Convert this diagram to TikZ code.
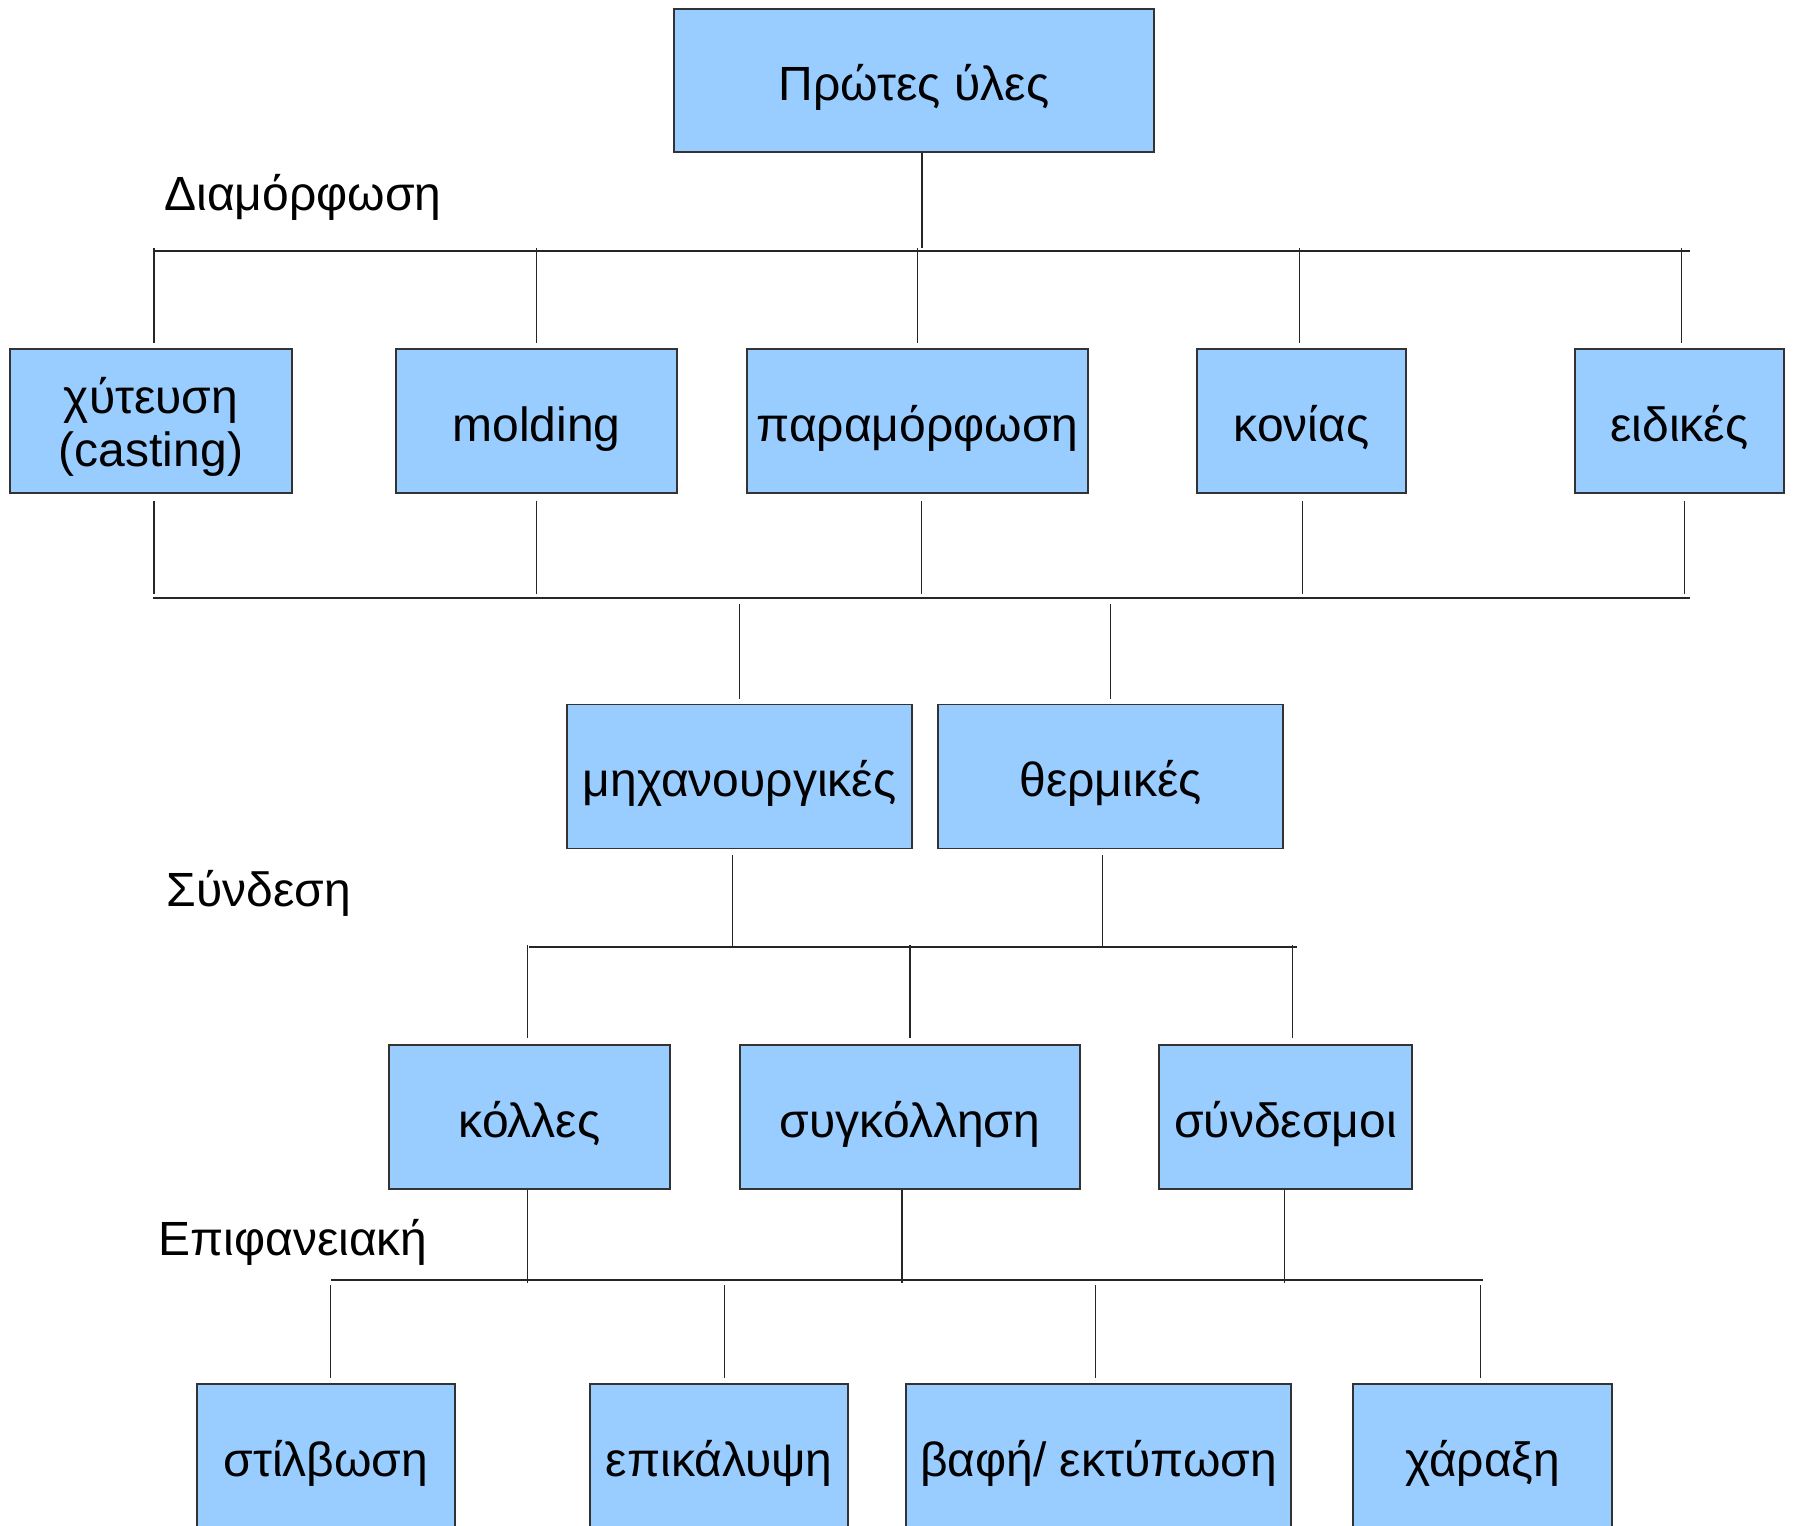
\documentclass[tikz,border=0pt]{standalone}
\usepackage{fontspec}
\setmainfont{Liberation Sans}
\definecolor{boxfill}{HTML}{99CCFF}
\definecolor{boxline}{HTML}{333333}
\begin{document}
\begin{tikzpicture}[x=0.5pt,y=-0.5pt,
  box/.style={draw=boxline, line width=0.6pt, fill=boxfill, inner sep=0pt,
    minimum height=72pt, text height=24pt, text depth=4pt,
    font=\fontsize{24}{27}\selectfont},
  plainbox/.style={draw=boxline, line width=0.6pt, fill=boxfill, inner sep=0pt,
    minimum height=72pt},
  boxtext/.style={anchor=base, inner sep=0pt, font=\fontsize{24}{27}\selectfont},
  conn/.style={draw=black!85, line width=0.55pt},
  bus/.style={draw=black!85, line width=0.9pt},
  lbl/.style={anchor=base west, inner sep=0pt, font=\fontsize{24}{27}\selectfont}]
\path[use as bounding box, clip] (0,0) rectangle (1794,1526);

% nodes
\node[box, minimum width=240pt, minimum height=71.5pt] (top) at (914,80.5) {Πρώτες ύλες};

\node[plainbox, minimum width=141pt] (cast) at (151,421) {};
\node[boxtext] (castA) at (151,413) {χύτευση};
\node[boxtext] (castB) at (151,466) {(casting)};
\node[box, minimum width=140.5pt] (mold) at (536.5,421) {molding};
\node[box, minimum width=170.5pt] (para) at (917.5,421) {παραμόρφωση};
\node[box, minimum width=104.5pt] (kon) at (1301.5,421) {κονίας};
\node[box, minimum width=104.5pt] (eid) at (1679.5,421) {ειδικές};

\node[box, minimum width=172.5pt] (mech) at (739.5,776.5) {μηχανουργικές};
\node[box, minimum width=172.5pt] (therm) at (1110.5,776.5) {θερμικές};

\node[box, minimum width=140.5pt] (koll) at (529.5,1117) {κόλλες};
\node[box, minimum width=170pt] (syg) at (910,1117) {συγκόλληση};
\node[box, minimum width=126.5pt] (synd) at (1285.5,1117) {σύνδεσμοι};

\node[box, minimum width=129pt] (stil) at (326,1456) {στίλβωση};
\node[box, minimum width=129pt] (epik) at (719,1456) {επικάλυψη};
\node[box, minimum width=192.5pt] (vafi) at (1098.5,1456) {βαφή/ εκτύπωση};
\node[box, minimum width=129.5pt] (xar) at (1482.5,1456) {χάραξη};

% labels
\node[lbl] (l1) at (164,210) {Διαμόρφωση};
\node[lbl] (l2) at (166,906) {Σύνδεση};
\node[lbl] (l3) at (158,1255) {Επιφανειακή};

% bus coordinates
\coordinate (b1l) at (153,251);  \coordinate (b1r) at (1690,251);
\coordinate (b2l) at (153,598);  \coordinate (b2r) at (1690,598);
\coordinate (b3l) at (529,947);  \coordinate (b3r) at (1297,947);
\coordinate (b4l) at (331,1280); \coordinate (b4r) at (1483,1280);

\draw[bus] (b1l) -- (b1r);
\draw[bus] (b2l) -- (b2r);
\draw[bus] (b3l) -- (b3r);
\draw[bus] (b4l) -- (b4r);

% level 1: top to bus
\draw[conn, shorten >=1.5pt] ([xshift=4pt]top.south) -- ([xshift=4pt]top.south |- b1l);
% bus 1 down to row 2
\foreach \n/\dx in {cast/1.5pt, mold/0pt, para/0pt, kon/-1pt, eid/1pt}{
  \draw[conn, shorten <=-1.5pt, shorten >=2.5pt] ([xshift=\dx]\n.north |- b1l) -- ([xshift=\dx]\n.north);
}
% row 2 down to bus 2
\foreach \n/\dx in {cast/1.5pt, mold/0pt, para/2.2pt, kon/0.5pt, eid/2.5pt}{
  \draw[conn, shorten <=3.5pt, shorten >=2pt] ([xshift=\dx]\n.south) -- ([xshift=\dx]\n.south |- b2l);
}
% bus 2 down to row 3, row 3 to bus 3
\foreach \n in {mech,therm}{
  \draw[conn, shorten <=3pt, shorten >=2.5pt] (\n.north |- b2l) -- (\n.north);
}
\draw[conn, shorten <=3pt] ([xshift=-3.5pt]mech.south) -- ([xshift=-3.5pt]mech.south |- b3l);
\draw[conn, shorten <=3pt] ([xshift=-4pt]therm.south) -- ([xshift=-4pt]therm.south |- b3l);
% bus 3 down to row 4
\foreach \n/\dx in {koll/-1pt, syg/0pt, synd/3.3pt}{
  \draw[conn, shorten <=-1pt, shorten >=3pt] ([xshift=\dx]\n.north |- b3l) -- ([xshift=\dx]\n.north);
}
% row 4 down to bus 4
\foreach \n/\dx in {koll/-1pt, syg/-4pt, synd/-0.5pt}{
  \draw[conn, shorten >=-1.5pt] ([xshift=\dx]\n.south) -- ([xshift=\dx]\n.south |- b4l);
}
% bus 4 down to row 5
\foreach \n/\dx in {stil/2.3pt, epik/2.8pt, vafi/-1.7pt, xar/-1.2pt}{
  \draw[conn, shorten <=2.5pt, shorten >=2.5pt] ([xshift=\dx]\n.north |- b4l) -- ([xshift=\dx]\n.north);
}
\end{tikzpicture}
\end{document}
